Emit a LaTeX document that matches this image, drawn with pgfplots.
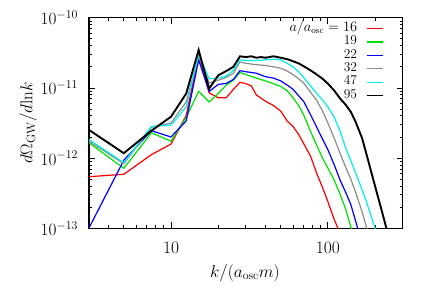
\documentclass[border=0pt]{standalone}
\usepackage{pgfplots}
\pgfplotsset{compat=1.18}
\definecolor{cred}{RGB}{255,0,0}
\definecolor{cgreen}{RGB}{0,225,0}
\definecolor{cblue}{RGB}{0,0,255}
\definecolor{cgray}{RGB}{140,140,140}
\definecolor{ccyan}{RGB}{0,238,238}
\pgfplotstableread{
k y
2.5 5.28e-13
5 5.89e-13
7.5 1.12e-12
10 1.585e-12
12.5 4.07e-12
15 2.82e-11
17.5 8.51e-12
20 7.24e-12
22.5 7.24e-12
25 9.55e-12
27.5 1.20e-11
30 1.15e-11
32.5 1.07e-11
35 7.94e-12
40 6.46e-12
45 5.62e-12
50 4.68e-12
55 3.39e-12
60 2.82e-12
65 2.19e-12
70 1.62e-12
77.5 1.07e-12
85 6.03e-13
92.5 3.80e-13
100 2.40e-13
110 1.32e-13
116 1.0e-13
125 6.31e-14
}\tred
\pgfplotstableread{
k y
2.5 2.24e-12
5 7.16e-13
7.5 2.29e-12
10 1.74e-12
12.5 3.80e-12
15 8.91e-12
17.5 6.31e-12
20 8.32e-12
22.5 1.10e-11
25 1.29e-11
27.5 1.66e-11
30 1.55e-11
35 1.38e-11
40 1.26e-11
45 1.15e-11
50 1.05e-11
55 9.12e-12
60 7.24e-12
65 5.62e-12
70 4.17e-12
77.5 2.40e-12
85 1.51e-12
92.5 1.0e-12
100 7.24e-13
110 4.79e-13
120 3.02e-13
130 1.86e-13
141 1.0e-13
150 6.31e-14
}\tgreen
\pgfplotstableread{
k y
2.5 4.57e-14
5 9.33e-13
7.5 2.455e-12
10 2.0e-12
12.5 3.39e-12
15 2.51e-11
17.5 8.91e-12
20 1.12e-11
22.5 1.16e-11
25 1.32e-11
27.5 1.76e-11
30 1.70e-11
35 1.62e-11
40 1.445e-11
45 1.38e-11
50 1.26e-11
55 1.10e-11
60 9.55e-12
65 7.76e-12
70 6.46e-12
77.5 4.17e-12
85 2.75e-12
92.5 1.86e-12
100 1.32e-12
110 7.94e-13
120 4.79e-13
130 3.24e-13
140 2.19e-13
155 1.0e-13
165 6.31e-14
}\tblue
\pgfplotstableread{
k y
2.5 2.26e-12
5 8.32e-13
7.5 2.75e-12
10 3.16e-12
12.5 6.31e-12
15 2.82e-11
17.5 1.175e-11
20 1.29e-11
22.5 1.41e-11
25 1.62e-11
27.5 2.34e-11
30 2.24e-11
35 2.14e-11
40 2.09e-11
45 2.0e-11
50 1.905e-11
55 1.74e-11
60 1.55e-11
65 1.35e-11
70 1.175e-11
77.5 8.71e-12
85 6.61e-12
92.5 4.68e-12
100 3.16e-12
110 1.905e-12
120 1.15e-12
130 7.41e-13
140 5.01e-13
150 3.31e-13
165 1.74e-13
177 1.0e-13
190 6.31e-14
}\tgray
\pgfplotstableread{
k y
2.5 2.40e-12
5 8.61e-13
7.5 2.82e-12
10 2.95e-12
12.5 5.37e-12
15 3.02e-11
17.5 1.35e-11
20 1.38e-11
22.5 1.48e-11
25 1.78e-11
27.5 2.51e-11
30 2.45e-11
35 2.45e-11
40 2.51e-11
45 2.57e-11
50 2.51e-11
55 2.24e-11
60 2.0e-11
65 1.70e-11
70 1.41e-11
77.5 1.07e-11
85 8.32e-12
92.5 6.76e-12
100 5.37e-12
110 3.80e-12
120 2.40e-12
130 1.38e-12
145 7.59e-13
160 4.27e-13
175 2.51e-13
200 1.0e-13
220 6.31e-14
}\tcyan
\pgfplotstableread{
k y
2.5 3.31e-12
5 1.175e-12
7.5 2.455e-12
10 3.89e-12
12.5 8.32e-12
15 3.47e-11
17.5 9.77e-12
20 1.51e-11
22.5 1.74e-11
25 2.0e-11
27.5 2.82e-11
30 2.75e-11
32.5 2.82e-11
35 2.69e-11
37.5 2.75e-11
40 2.69e-11
45 2.82e-11
50 2.69e-11
55 2.57e-11
60 2.40e-11
65 2.24e-11
70 2.04e-11
77.5 1.78e-11
85 1.55e-11
92.5 1.35e-11
100 1.15e-11
110 9.12e-12
120 7.0e-12
130 5.75e-12
140 4.57e-12
150 3.31e-12
165 1.95e-12
180 9.55e-13
200 3.98e-13
220 1.82e-13
250 6.17e-14
}\tblack
\begin{document}
\fontsize{17.5}{21}\selectfont%
\begin{tikzpicture}
\path[use as bounding box] (-89bp,-76.7bp) rectangle (347bp,228.3bp);
\begin{axis}[
  scale only axis, width=313.7bp, height=210.6bp,
  xmode=log, ymode=log,
  xmin=3, xmax=300, ymin=1e-13, ymax=1e-10,
  xtick={10,100}, xticklabels={10,100},
  minor xtick={3,4,5,6,7,8,9,20,30,40,50,60,70,80,90,200,300},
  ytick={1e-13,1e-12,1e-11,1e-10},
  minor ytick={2e-13,3e-13,4e-13,5e-13,6e-13,7e-13,8e-13,9e-13,2e-12,3e-12,4e-12,5e-12,6e-12,7e-12,8e-12,9e-12,2e-11,3e-11,4e-11,5e-11,6e-11,7e-11,8e-11,9e-11},
  axis line style={line width=1.2bp},
  major tick length=6bp, minor tick length=3bp,
  every tick/.style={black, line width=0.8bp},
  yticklabel style={xshift=-5bp},
  xticklabel style={yshift=-8bp},
  xlabel={$k/(a_{\rm osc}m)$},
  ylabel={$d\Omega_{\rm GW}/d{\rm ln}k$},
  xlabel style={at={(axis description cs:0.497,-0.212)}, anchor=center},
  ylabel style={at={(axis description cs:-0.194,0.5)}, anchor=center},
  legend plot pos=right,
  legend cell align=right,
  legend image code/.code={\draw[#1] (0bp,0bp) -- (16.6bp,0bp);},
  legend style={at={(rel axis cs:0.9413,0.9815)}, anchor=north east,
    draw=none, fill=none, inner sep=0pt, row sep=0pt,
    font=\fontsize{13.5}{15}\selectfont,
    nodes={inner sep=0pt, text height=9.5bp, text depth=3.9bp},
    /tikz/every odd column/.append style={column sep=8.5bp}},
]
\addplot[cred, line width=1.2bp] table[x=k,y=y] {\tred};
\addlegendentry{$a/a_{\rm osc} = 16$}
\addplot[cgreen, line width=1.2bp] table[x=k,y=y] {\tgreen};
\addlegendentry{19}
\addplot[cblue, line width=1.2bp] table[x=k,y=y] {\tblue};
\addlegendentry{22}
\addplot[cgray, line width=1.2bp] table[x=k,y=y] {\tgray};
\addlegendentry{32}
\addplot[ccyan, line width=1.2bp] table[x=k,y=y] {\tcyan};
\addlegendentry{47}
\addplot[black, line width=1.9bp] table[x=k,y=y] {\tblack};
\addlegendentry{95}
\end{axis}
\end{tikzpicture}%
\end{document}
